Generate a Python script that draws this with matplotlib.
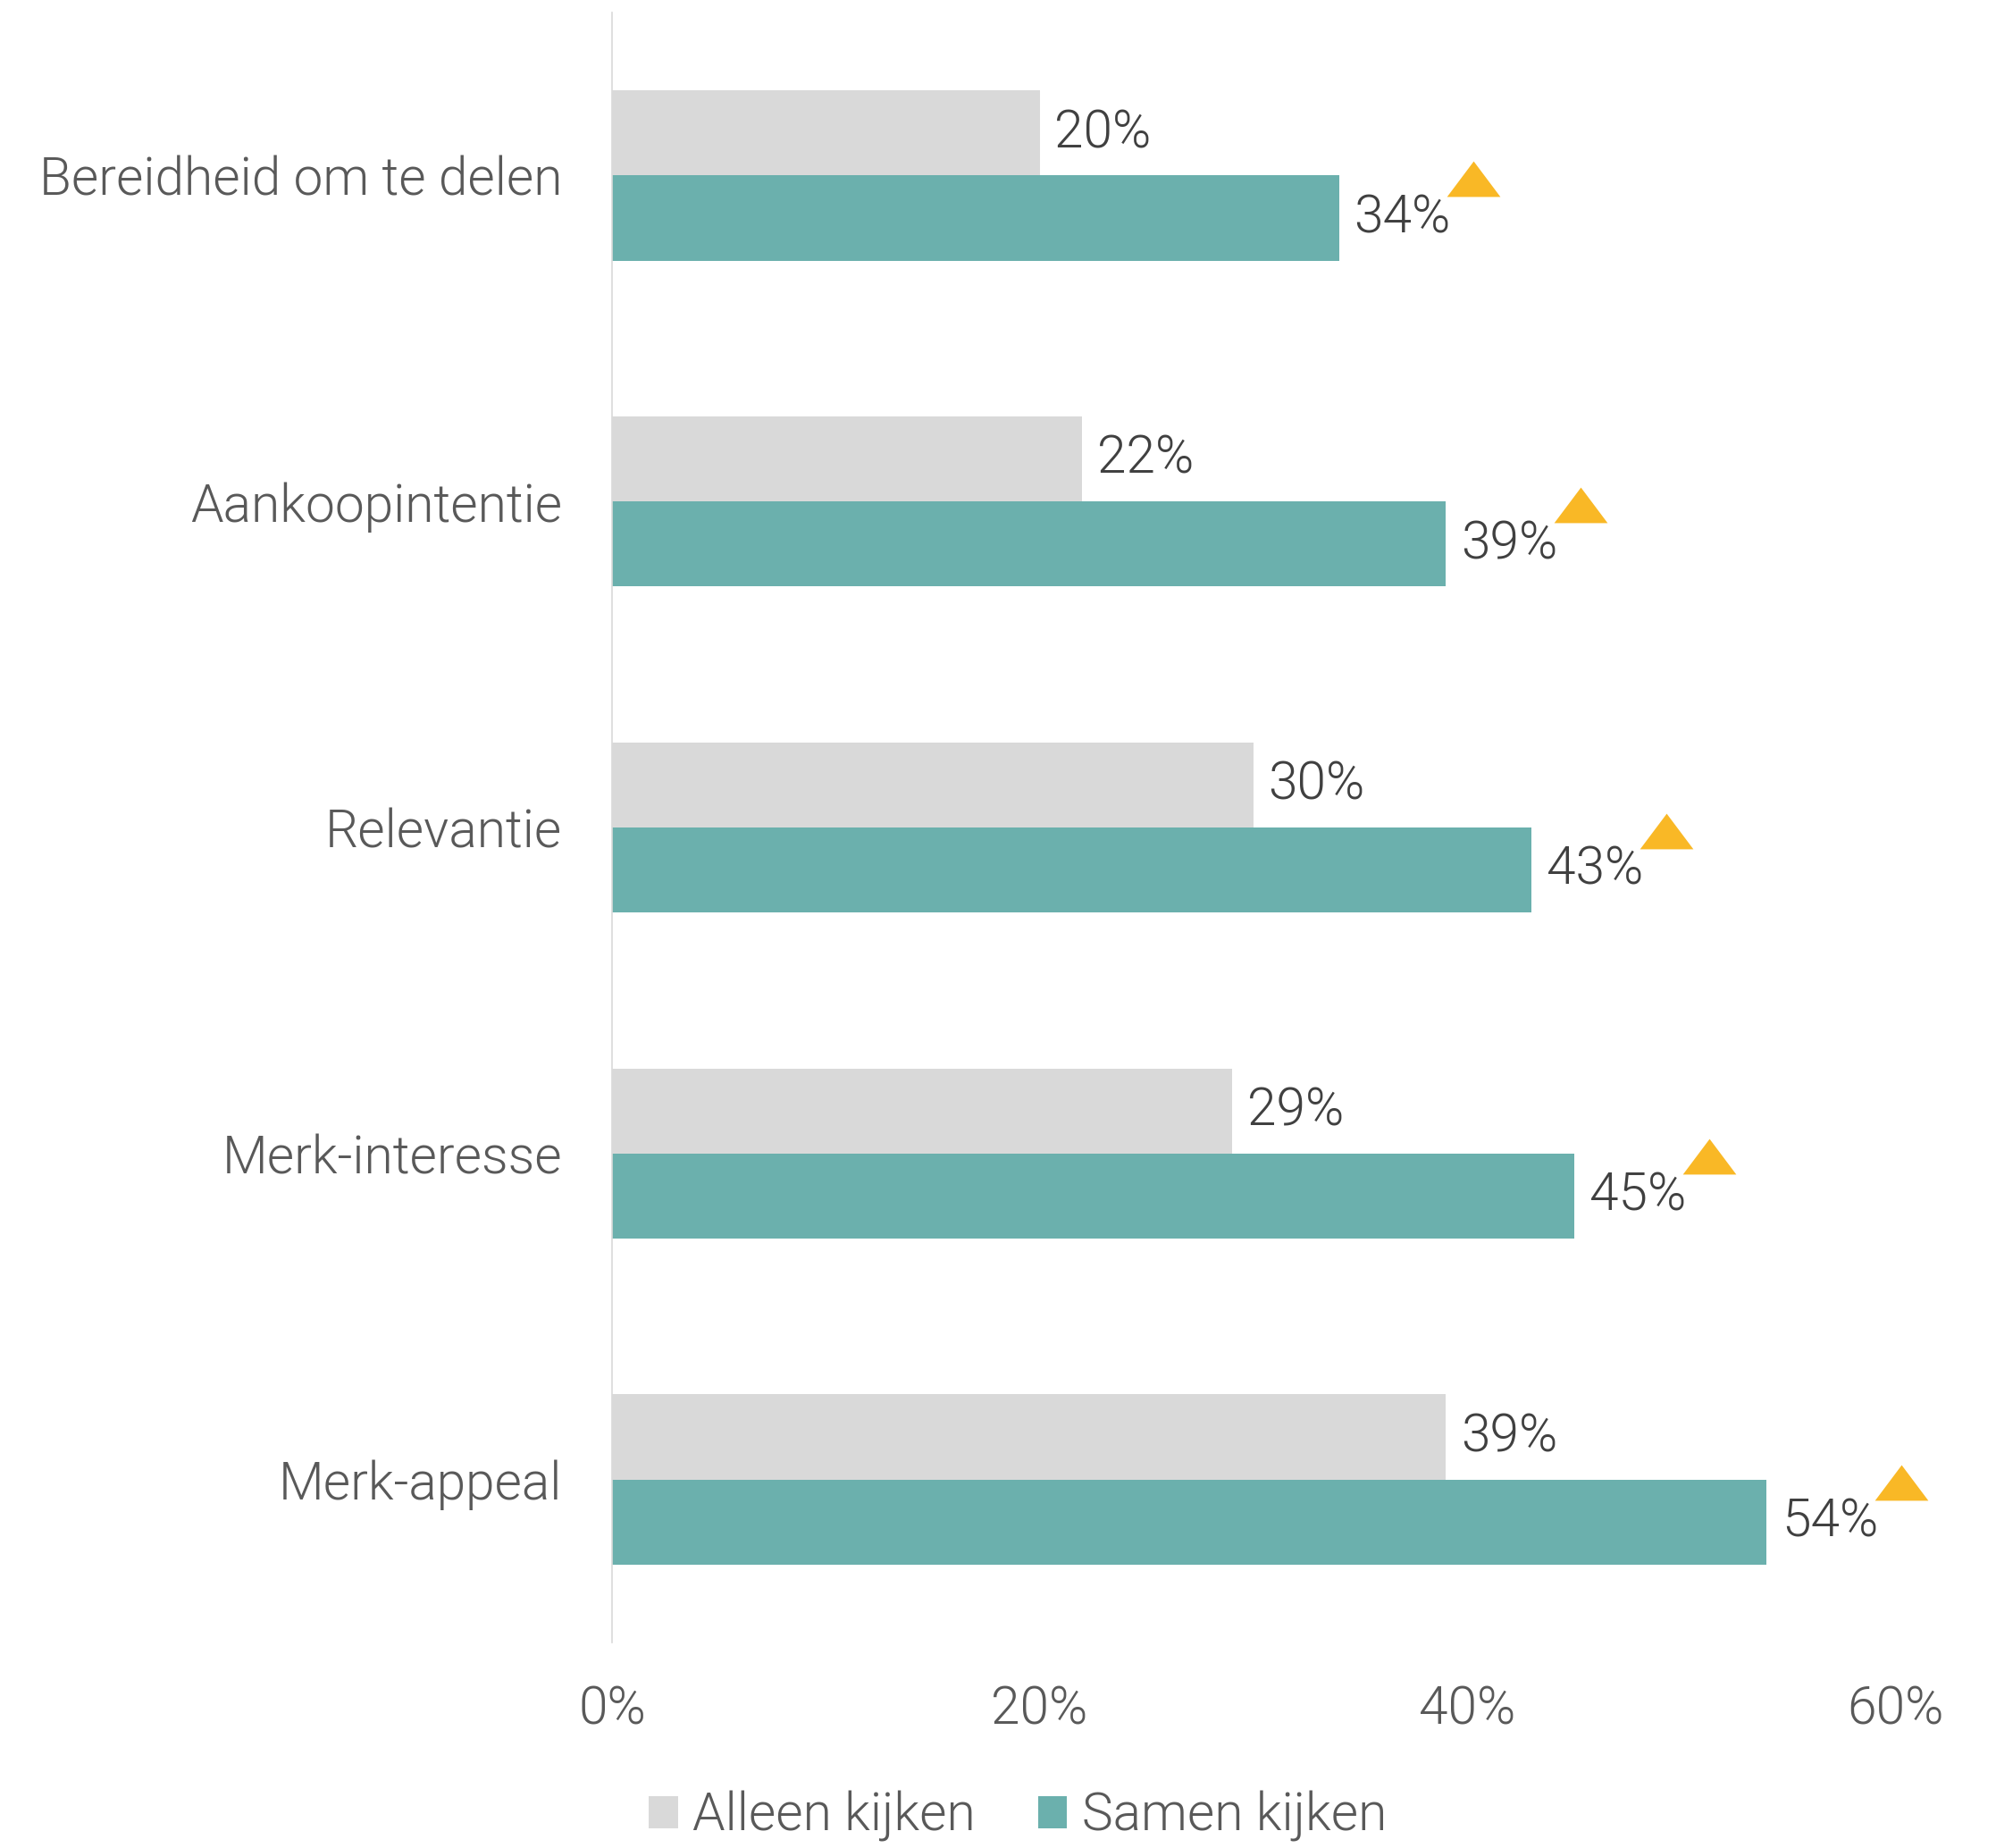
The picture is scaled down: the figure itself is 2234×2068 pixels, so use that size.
import matplotlib.pyplot as plt
import numpy as np

#_____________________________________________________________________________
# data

categories = ["Bereidheid om te delen", "Aankoopintentie", "Relevantie",
              "Merk-interesse", "Merk-appeal"]
alleen = [20, 22, 30, 29, 39]
samen = [34, 39, 43, 45, 54]
series_names = ["Alleen kijken", "Samen kijken"]
xticks = [0, 20, 40, 60]

#_____________________________________________________________________________
def main():

    plt.rcParams["font.family"] = ["Roboto", "DejaVu Sans"]
    plt.rcParams["font.weight"] = 300

    col_grey = "#D9D9D9"
    col_teal = "#6BB0AD"
    col_tri = "#F9B826"
    col_txt = "#595959"
    col_val = "#404040"
    fs = 42.2

    fig = plt.figure(figsize=(22.34, 20.68), dpi=100)
    ax = fig.add_axes([0.3066, 0.1112, 0.6428, 0.882])

    y = np.arange(len(categories))
    h = 0.261

    b1 = ax.barh(y - h/2, alleen, height=h, color=col_grey, label=series_names[0])
    b2 = ax.barh(y + h/2, samen, height=h, color=col_teal, label=series_names[1])

    #value labels
    for yi, v in zip(y - h/2, alleen):
        ax.annotate("{0}%".format(v), (v, yi), xytext=(12, 0), textcoords="offset points",
                    va="center", ha="left", fontsize=fs, color=col_val)
    for yi, v in zip(y + h/2, samen):
        ax.annotate("{0}%".format(v), (v, yi), xytext=(12, 0), textcoords="offset points",
                    va="center", ha="left", fontsize=fs, color=col_val)

    #significance triangles
    tri = [(0, 1), (-1.5, -1), (1.5, -1), (0, 1)]
    ax.plot(np.array(samen) + 6.3, y + 0.01, linestyle="", marker=tri,
            markersize=43, color=col_tri, markeredgewidth=0, clip_on=False)

    ax.set_xlim(0, 60)
    ax.set_ylim(len(categories) - 0.5, -0.5)

    ax.set_xticks(xticks)
    ax.set_xticklabels(["{0}%".format(t) for t in xticks])
    ax.set_yticks(y)
    ax.set_yticklabels(categories)

    ax.tick_params(axis="y", length=0, pad=40, labelsize=fs, labelcolor=col_txt)
    ax.tick_params(axis="x", length=0, pad=34, labelsize=fs, labelcolor=col_txt)

    for s in ["top", "right", "bottom"]:
        ax.spines[s].set_visible(False)
    ax.spines["left"].set_color(col_grey)
    ax.spines["left"].set_linewidth(1.2)

    leg = fig.legend(handles=[b1, b2], loc="center", bbox_to_anchor=(0.51, 0.017),
                     ncol=2, frameon=False, fontsize=fs, handlelength=0.55,
                     handleheight=0.55, handletextpad=0.28, columnspacing=1.2)
    for t in leg.get_texts():
        t.set_color(col_txt)

    fig.savefig("out.png", dpi=100)

#main

#_____________________________________________________________________________
if __name__ == "__main__":

    main()
